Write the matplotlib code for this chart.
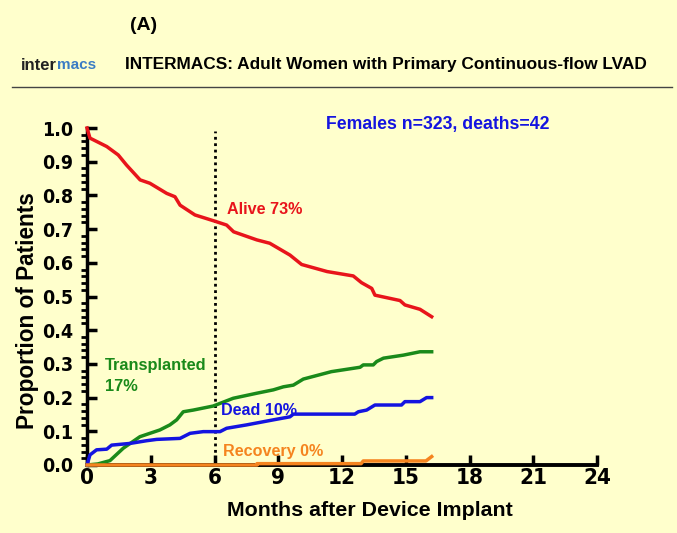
import numpy as np
import matplotlib.pyplot as plt
import matplotlib.ticker as ticker
from matplotlib import font_manager

# months / proportions
alive_m = [0, 0.14, 0.93, 1.47, 1.86, 2.5, 2.96, 3.75, 4.14, 4.38, 5.08, 5.94, 6.57, 6.9,
           7.99, 8.6, 9.55, 10.1, 11.3, 12.53, 12.92, 13.4, 13.55, 14.73, 14.96, 15.67, 16.22]
alive_p = [1.0, 0.97, 0.945, 0.92, 0.89, 0.846, 0.836, 0.806, 0.796, 0.771, 0.742, 0.725, 0.712, 0.692,
           0.668, 0.658, 0.623, 0.595, 0.574, 0.561, 0.541, 0.524, 0.504, 0.488, 0.475, 0.462, 0.44]

tx_m = [0, 0.5, 1.08, 1.71, 2.49, 3.43, 3.9, 4.22, 4.53, 5.0, 5.94, 6.88, 7.99, 8.77, 9.24,
        9.71, 10.18, 11.5, 12.85, 13.0, 13.47, 13.63, 13.95, 14.89, 15.67, 16.22]
tx_p = [0, 0.003, 0.013, 0.05, 0.084, 0.104, 0.119, 0.134, 0.158, 0.163, 0.175, 0.198, 0.213, 0.223, 0.232,
        0.237, 0.255, 0.277, 0.29, 0.297, 0.297, 0.307, 0.317, 0.326, 0.336, 0.336]

dead_m = [0, 0.14, 0.45, 0.93, 1.16, 2.02, 2.8, 3.28, 4.38, 4.85, 5.47, 6.26, 6.57, 7.51, 8.77,
          9.55, 9.71, 12.6, 12.77, 13.16, 13.55, 14.8, 14.96, 15.67, 15.98, 16.22]
dead_p = [0, 0.03, 0.045, 0.047, 0.059, 0.064, 0.072, 0.076, 0.079, 0.094, 0.099, 0.099, 0.109, 0.119, 0.134,
          0.143, 0.151, 0.151, 0.158, 0.163, 0.178, 0.178, 0.188, 0.188, 0.2, 0.2]

rec_m = [0, 8.0, 8.0, 12.9, 13.0, 15.95, 16.22]
rec_p = [0, 0, 0.004, 0.004, 0.012, 0.012, 0.025]

bg = '#FFFFCC'
red = '#E8141B'
green = '#1A8A1A'
blue = '#1414E0'
orange = '#F5841F'

plt.rcParams['font.family'] = ['Liberation Sans', 'DejaVu Sans']
yfont = font_manager.FontProperties(family='DejaVu Sans', stretch='condensed',
                                    weight='bold', size=14)
xfont = font_manager.FontProperties(family='DejaVu Sans', stretch='condensed',
                                    weight='bold', size=16)

fig = plt.figure(figsize=(6.77, 5.33), dpi=100, facecolor=bg)
ax = fig.add_axes([87/677, 1-465/533, 510/677, 337/533])
ax.set_facecolor(bg)

ax.plot(alive_m, alive_p, color=red, lw=2.5, clip_on=False, zorder=3)
ax.plot(tx_m, tx_p, color=green, lw=2.5, clip_on=False, zorder=3)
ax.plot(dead_m, dead_p, color=blue, lw=2.5, clip_on=False, zorder=3)
ax.plot(rec_m, rec_p, color=orange, lw=2.5, clip_on=False, zorder=4)
ax.plot([6, 6], [0, 0.99], color='black', lw=2, linestyle=(0, (1, 1.3)), zorder=2)

ax.set_xlim(0, 24)
ax.set_ylim(0, 1.0)
ax.spines['top'].set_visible(False)
ax.spines['right'].set_visible(False)
ax.spines['left'].set_linewidth(2.5)
ax.spines['bottom'].set_linewidth(2.8)
ax.xaxis.set_major_locator(ticker.MultipleLocator(3))
ax.yaxis.set_major_locator(ticker.MultipleLocator(0.1))
ax.yaxis.set_minor_locator(ticker.MultipleLocator(0.02))
ax.yaxis.set_major_formatter(ticker.FormatStrFormatter('%.1f'))
ax.tick_params(axis='x', direction='in', length=7, width=2.5, pad=2)
ax.tick_params(axis='y', which='major', direction='in', length=7, width=2.5, pad=10)
ax.tick_params(axis='y', which='minor', direction='out', length=4, width=2)
for lab in ax.get_xticklabels():
    lab.set_fontproperties(xfont)
for lab in ax.get_yticklabels():
    lab.set_fontproperties(yfont)

ax.set_xlabel('Months after Device Implant', fontsize=15.4, fontweight='bold', va='center')
ax.xaxis.set_label_coords(0.555, -0.136)
ax.set_ylabel('Proportion of Patients', fontsize=16.3, fontweight='bold', va='center')
ax.yaxis.set_label_coords(-0.116, 0.457)

ax.text(16.5, 1.01, 'Females n=323, deaths=42', color=blue, fontsize=12.7, fontweight='bold',
        ha='center', va='center')
ax.text(6.6, 0.757, 'Alive 73%', color=red, fontsize=11.6, fontweight='bold', va='center')
ax.text(0.85, 0.265, 'Transplanted\n17%', color=green, fontsize=11.8, fontweight='bold',
        va='center', linespacing=1.5)
ax.text(6.3, 0.163, 'Dead 10%', color=blue, fontsize=11.6, fontweight='bold', va='center')
ax.text(6.4, 0.04, 'Recovery 0%', color=orange, fontsize=11.6, fontweight='bold', va='center')

fig.text(130/677, 1-25/533, '(A)', fontsize=14, fontweight='bold', va='center')
fig.text(57/677, 1-65/533, 'inter', fontsize=12, fontweight='bold', color='#222222',
         ha='right', va='center')
fig.text(57/677, 1-65/533, 'macs', fontsize=11, fontweight='bold', color='#3A7CC4',
         ha='left', va='center')
fig.text(125/677, 1-65/533, 'INTERMACS: Adult Women with Primary Continuous-flow LVAD',
         fontsize=12.4, fontweight='bold', va='center')
fig.add_artist(plt.Line2D([12/677, 672/677], [1-87/533, 1-87/533], color='#444444', lw=1))

fig.savefig('out.png', dpi=100, facecolor=bg)
